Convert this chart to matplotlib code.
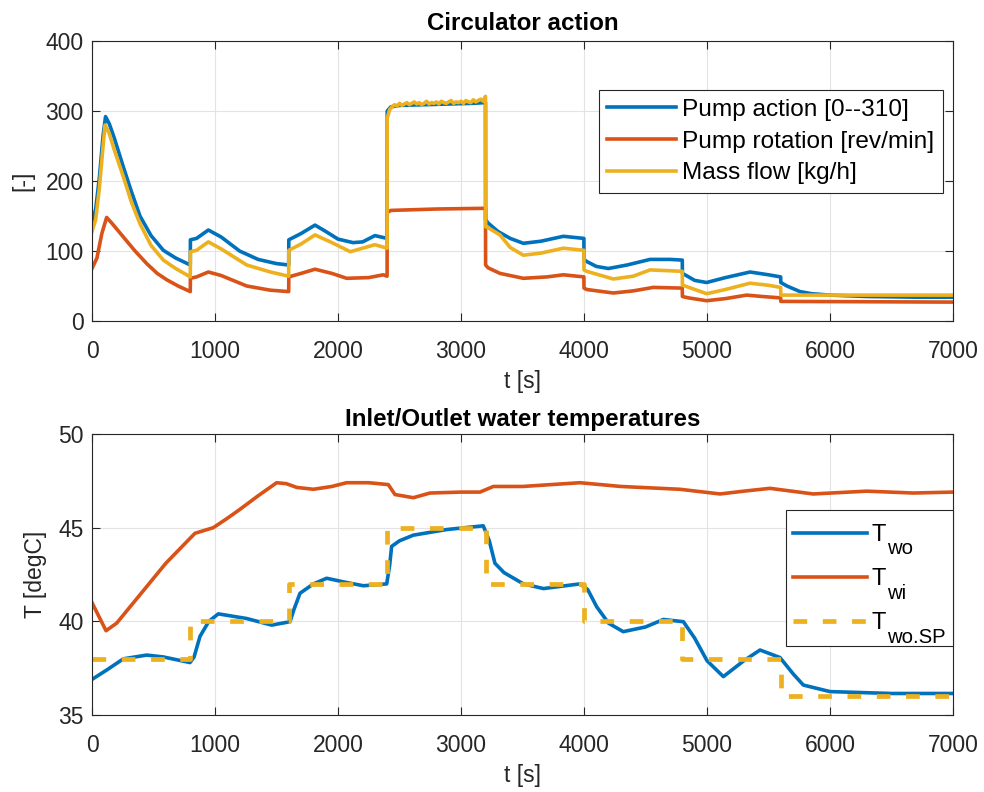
import matplotlib
matplotlib.use("Agg")
import matplotlib.pyplot as plt
from matplotlib.patches import Rectangle

plt.rcParams["font.family"] = ["Liberation Sans", "DejaVu Sans"]

# MATLAB default colours
c_blue = "#0072BD"
c_red = "#D95319"
c_yel = "#EDB120"
c_axis = "#262626"

# ---- Circulator action ----
t_action = [0, 30, 60, 90, 110, 140, 180, 255, 320, 390, 480, 580, 680, 799, 800, 850, 946,
            1050, 1200, 1350, 1500, 1599, 1600, 1700, 1813, 1900, 2000, 2122, 2200, 2300, 2399,
            2400, 2430, 2500, 2700, 2900, 3100, 3199, 3200, 3220, 3300, 3400, 3507, 3650, 3832,
            3999, 4000, 4022, 4100, 4198, 4350, 4537, 4700, 4799, 4800, 4821, 4900, 4997, 5150,
            5350, 5500, 5599, 5600, 5650, 5756, 5850, 6000, 6300, 6700, 7000]
pump_action = [140, 160, 205, 265, 292, 282, 262, 220, 185, 150, 122, 101, 90, 80, 116, 118, 130,
               120, 100, 88, 82, 80, 116, 125, 137, 128, 117, 112, 113, 122, 118,
               300, 306, 308, 309, 310, 311, 312, 145, 140, 128, 118, 111, 114, 121,
               118, 88, 85, 78, 75, 80, 88, 88, 87, 68, 66, 58, 55, 62,
               70, 66, 63, 55, 50, 42, 39, 37, 35, 34, 34]

t_rot = [0, 40, 80, 119, 160, 255, 350, 445, 530, 607, 700, 799, 800, 850, 946, 1050, 1258,
         1450, 1599, 1600, 1700, 1813, 1950, 2070, 2250, 2368, 2399, 2400, 2430, 2800, 3199,
         3200, 3220, 3317, 3507, 3700, 3832, 3999, 4000, 4022, 4238, 4400, 4563, 4799, 4800,
         4850, 4997, 5150, 5322, 5450, 5599, 5600, 7000]
pump_rot = [75, 90, 125, 148, 140, 120, 100, 82, 68, 59, 50, 42, 61, 63, 70, 65, 50,
            44, 42, 63, 68, 74, 68, 61, 62, 66, 64, 155, 158, 160, 161,
            80, 76, 68, 61, 63, 66, 63, 47, 45, 40, 43, 48, 47, 35,
            33, 29, 32, 37, 35, 33, 28, 27]

t_flow = [0, 30, 60, 90, 106, 140, 180, 255, 320, 390, 480, 580, 680, 799, 800, 850, 946, 1050,
          1258, 1450, 1599, 1600, 1700, 1813, 1950, 2100, 2300, 2399, 2400,
          2420, 2440, 2460, 2480, 2500, 2520, 2540, 2560, 2580, 2600, 2620, 2640, 2660,
          2680, 2700, 2720, 2740, 2760, 2780, 2800, 2820, 2840, 2860, 2880, 2900, 2920,
          2940, 2960, 2980, 3000, 3020, 3040, 3060, 3080, 3100, 3120, 3140, 3160, 3180, 3199,
          3200, 3222, 3317, 3400, 3507, 3650, 3832, 3999, 4000, 4022, 4238,
          4400, 4537, 4799, 4800, 4821, 4997, 5150, 5350, 5500, 5599, 5600, 7000]
mass_flow = [128, 145, 190, 250, 280, 268, 245, 206, 170, 139, 108, 87, 75, 63, 99, 101, 113, 103,
             80, 70, 64, 101, 110, 123, 112, 99, 109, 104, 290,
             302, 306, 309, 307, 311, 308, 310, 312, 309, 311, 313, 310, 312,
             309, 311, 314, 310, 312, 311, 313, 310, 314, 312, 311, 313, 315,
             311, 313, 312, 314, 311, 315, 313, 312, 316, 313, 315, 317, 314, 321,
             135, 133, 123, 105, 94, 97, 104, 101, 73, 71, 60,
             64, 73, 71, 51, 50, 39, 45, 54, 51, 48, 37, 37]

# ---- Inlet/Outlet water temperatures ----
t_wi = [0, 114, 200, 444, 600, 837, 986, 1100, 1203, 1350, 1501, 1580, 1664, 1800, 1950, 2070,
        2250, 2409, 2463, 2612, 2748, 3000, 3154, 3263, 3500, 3967, 4300, 4780, 5106, 5300,
        5512, 5864, 6298, 6677, 7000]
T_wi = [41.0, 39.5, 39.9, 41.85, 43.1, 44.7, 45.0, 45.5, 45.98, 46.7, 47.4, 47.35, 47.15, 47.05,
        47.2, 47.4, 47.4, 47.3, 46.77, 46.6, 46.85, 46.9, 46.9, 47.2, 47.2, 47.4, 47.2, 47.05,
        46.8, 46.95, 47.1, 46.8, 46.95, 46.85, 46.9]

t_wo = [0, 119, 255, 445, 580, 797, 830, 878, 950, 1027, 1258, 1461, 1610, 1640, 1691, 1800,
        1908, 2050, 2206, 2396, 2420, 2436, 2500, 2612, 2883, 3181, 3230, 3276, 3350, 3507,
        3670, 3967, 4030, 4103, 4200, 4319, 4500, 4645, 4808, 4900, 5000, 5133, 5300, 5431,
        5593, 5700, 5783, 6000, 6500, 7000]
T_wo = [36.9, 37.4, 38.0, 38.2, 38.1, 37.8, 38.1, 39.2, 40.0, 40.4, 40.15, 39.8, 39.98, 40.6,
        41.5, 42.0, 42.3, 42.1, 41.9, 42.0, 43.0, 44.0, 44.3, 44.6, 44.9, 45.1, 44.3, 43.1,
        42.6, 42.0, 41.75, 42.0, 41.7, 40.78, 39.9, 39.45, 39.7, 40.1, 39.98, 39.1, 37.9,
        37.05, 37.9, 38.47, 38.07, 37.2, 36.6, 36.25, 36.15, 36.15]

t_sp = [0, 800, 1600, 2400, 3200, 4000, 4800, 5600, 7000]
T_sp = [38, 40, 42, 45, 42, 40, 38, 36, 36]

x_ticks = [0, 1000, 2000, 3000, 4000, 5000, 6000, 7000]
bottom_labels = ["T", "T", "T"]
bottom_subs = ["wo", "wi", "wo.SP"]
fs = 16.5


def matlab_axes(ax):
    ax.set_xlim(0, 7000)
    ax.set_xticks(x_ticks)
    ax.grid(True, color="#e3e3e3", linewidth=0.8)
    ax.set_axisbelow(True)
    ax.tick_params(direction="in", top=True, right=True, length=6, width=0.8,
                   labelsize=fs, colors=c_axis)
    ax.tick_params(axis="x", pad=13.5)
    ax.tick_params(axis="y", pad=6)
    for s in ax.spines.values():
        s.set_color(c_axis)
        s.set_linewidth(0.8)
    ax.set_xlabel("t [s]", fontsize=fs, color=c_axis, labelpad=5)


fig = plt.figure(figsize=(9.84, 7.92), dpi=100)

# Top plot
ax1 = fig.add_axes([0.0935, 0.5947, 0.875, 0.3535])
ax1.plot(t_action, pump_action, color=c_blue, lw=2.6, label="Pump action [0--310]")
ax1.plot(t_rot, pump_rot, color=c_red, lw=2.6, label="Pump rotation [rev/min]")
ax1.plot(t_flow, mass_flow, color=c_yel, lw=2.6, label="Mass flow [kg/h]")
ax1.set_ylim(0, 400)
ax1.set_yticks([0, 100, 200, 300, 400])
matlab_axes(ax1)
ax1.set_ylabel("[-]", fontsize=fs, color=c_axis, labelpad=8)
ax1.set_title("Circulator action", fontsize=17.4, fontweight="bold", pad=8)
leg1 = ax1.legend(loc="upper right", bbox_to_anchor=(0.988, 0.825), fontsize=17.6,
                  fancybox=False, framealpha=1, edgecolor=c_axis,
                  handlelength=2.8, handletextpad=0.25, labelspacing=0.4,
                  borderpad=0.35, borderaxespad=0)
leg1.get_frame().set_linewidth(0.8)

# Bottom plot
ax2 = fig.add_axes([0.0935, 0.0972, 0.875, 0.3548])
l_wo, = ax2.plot(t_wo, T_wo, color=c_blue, lw=2.6)
l_wi, = ax2.plot(t_wi, T_wi, color=c_red, lw=2.6)
l_sp, = ax2.plot(t_sp, T_sp, color=c_yel, lw=3.4, ls=(0, (2.9, 3.3)), drawstyle="steps-post")
ax2.set_ylim(35, 50)
ax2.set_yticks([35, 40, 45, 50])
matlab_axes(ax2)
ax2.set_ylabel("T [degC]", fontsize=fs, color=c_axis, labelpad=8)
ax2.set_title("Inlet/Outlet water temperatures", fontsize=17.4, fontweight="bold", pad=6)

# legend frame drawn by hand so the subscripts fit like MATLAB's tex labels
ax2.add_patch(Rectangle((0.806, 0.2456), 0.194, 0.484, transform=ax2.transAxes,
                        facecolor="white", edgecolor=c_axis, linewidth=0.8,
                        zorder=4.5, clip_on=False))
leg2 = ax2.legend([l_wo, l_wi, l_sp], bottom_labels, loc="upper left",
                  bbox_to_anchor=(0.8138, 0.6797), fontsize=17, frameon=False,
                  handlelength=3.13, handletextpad=0.2, labelspacing=0.94,
                  borderpad=0, borderaxespad=0)
for txt, sub in zip(leg2.get_texts(), bottom_subs):
    ax2.annotate(sub, xy=(0, 0), xycoords=txt, xytext=(11.2, -6),
                 textcoords="offset points", fontsize=14.6, va="baseline",
                 ha="left", zorder=6)

fig.savefig("out.png", dpi=100)
